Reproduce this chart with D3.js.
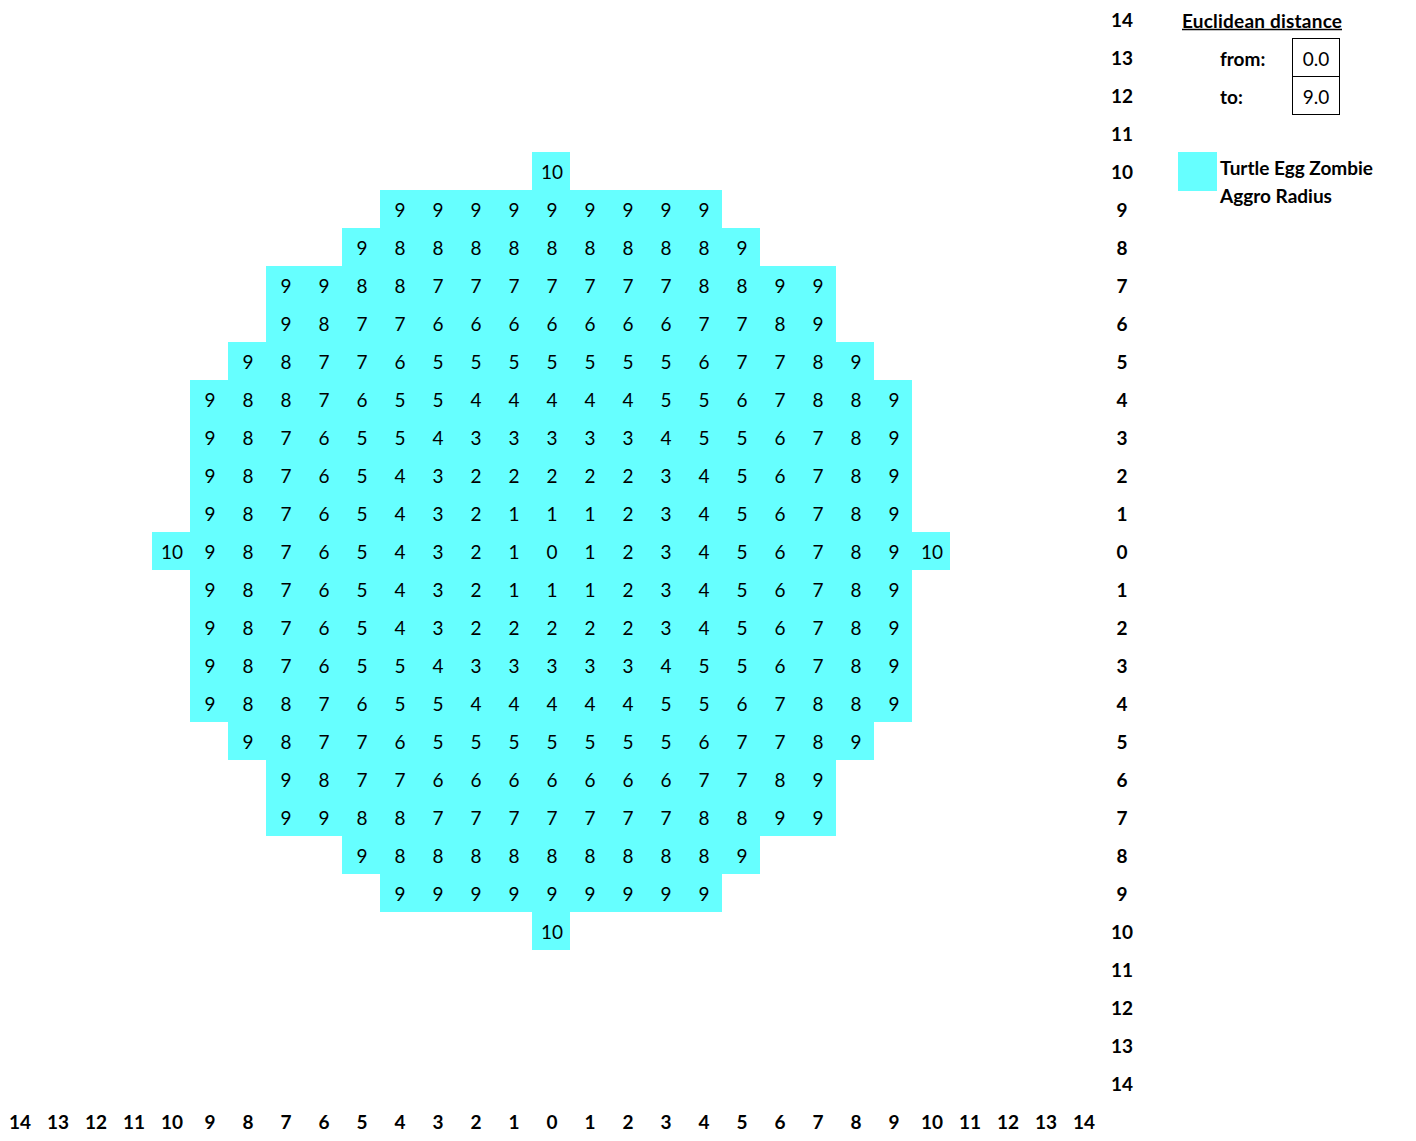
<!DOCTYPE html>
<html><head><meta charset="utf-8">
<script src="https://cdn.jsdelivr.net/npm/d3@7"></script>
<style>
html,body{margin:0;padding:0;background:#fff;}
svg{display:block;font-family:Lato,"Open Sans",sans-serif;}
</style></head>
<body>
<svg id="chart" width="1416" height="1141"></svg>
<script>
// ---- data ----
const xCategories = d3.range(-14, 15);          // column positions
const yCategories = d3.range(14, -15, -1);      // row positions (top to bottom)
const xTickLabels = [14,13,12,11,10,9,8,7,6,5,4,3,2,1,0,1,2,3,4,5,6,7,8,9,10,11,12,13,14];
const yTickLabels = [14,13,12,11,10,9,8,7,6,5,4,3,2,1,0,1,2,3,4,5,6,7,8,9,10,11,12,13,14];

const rowY     = [10, 9, 8, 7, 6, 5, 4, 3, 2, 1, 0, -1, -2, -3, -4, -5, -6, -7, -8, -9, -10];
const rowStart = [ 0,-4,-5,-7,-7,-8,-9,-9,-9,-9,-10,-9, -9, -9, -9, -8, -7, -7, -5, -4,   0];
const rowValues = [
  [10],
  [9,9,9,9,9,9,9,9,9],
  [9,8,8,8,8,8,8,8,8,8,9],
  [9,9,8,8,7,7,7,7,7,7,7,8,8,9,9],
  [9,8,7,7,6,6,6,6,6,6,6,7,7,8,9],
  [9,8,7,7,6,5,5,5,5,5,5,5,6,7,7,8,9],
  [9,8,8,7,6,5,5,4,4,4,4,4,5,5,6,7,8,8,9],
  [9,8,7,6,5,5,4,3,3,3,3,3,4,5,5,6,7,8,9],
  [9,8,7,6,5,4,3,2,2,2,2,2,3,4,5,6,7,8,9],
  [9,8,7,6,5,4,3,2,1,1,1,2,3,4,5,6,7,8,9],
  [10,9,8,7,6,5,4,3,2,1,0,1,2,3,4,5,6,7,8,9,10],
  [9,8,7,6,5,4,3,2,1,1,1,2,3,4,5,6,7,8,9],
  [9,8,7,6,5,4,3,2,2,2,2,2,3,4,5,6,7,8,9],
  [9,8,7,6,5,5,4,3,3,3,3,3,4,5,5,6,7,8,9],
  [9,8,8,7,6,5,5,4,4,4,4,4,5,5,6,7,8,8,9],
  [9,8,7,7,6,5,5,5,5,5,5,5,6,7,7,8,9],
  [9,8,7,7,6,6,6,6,6,6,6,7,7,8,9],
  [9,9,8,8,7,7,7,7,7,7,7,8,8,9,9],
  [9,8,8,8,8,8,8,8,8,8,9],
  [9,9,9,9,9,9,9,9,9],
  [10]
];
const legendTitle = "Euclidean distance";
const fromLabel = "from:", fromValue = "0.0";
const toLabel = "to:", toValue = "9.0";
const seriesName = ["Turtle Egg Zombie", "Aggro Radius"];

// ---- build cells ----
const cells = [];
rowY.forEach((y, i) => {
  rowValues[i].forEach((v, j) => cells.push({x: rowStart[i] + j, y: y, v: v}));
});

const CELL = 38;
const FILL = "#66FFFF";
const svg = d3.select("#chart");

const x = d3.scaleBand().domain(xCategories).range([0, CELL * xCategories.length]);
const y = d3.scaleBand().domain(yCategories).range([0, CELL * yCategories.length]);
const gridW = CELL * xCategories.length;
const gridH = CELL * yCategories.length;

const g = svg.append("g");
g.selectAll("rect.cell").data(cells).join("rect")
  .attr("class", "cell")
  .attr("x", d => x(d.x)).attr("y", d => y(d.y))
  .attr("width", x.bandwidth()).attr("height", y.bandwidth())
  .attr("fill", FILL);

g.selectAll("text.val").data(cells).join("text")
  .attr("class", "val")
  .attr("x", d => x(d.x) + x.bandwidth() / 2 + 1)
  .attr("y", d => y(d.y) + y.bandwidth() / 2 + 1)
  .attr("dy", "0.36em")
  .attr("text-anchor", "middle")
  .attr("font-size", 19)
  .attr("fill", "#000")
  .text(d => d.v);

// ---- axes ----
const xAxis = d3.axisBottom(x).tickSize(0).tickFormat((d, i) => xTickLabels[i]);
const gx = svg.append("g").attr("transform", `translate(1,${gridH})`).call(xAxis);
gx.select(".domain").remove();
gx.selectAll("text").attr("y", CELL / 2 + 1).attr("dy", "0.36em")
  .attr("font-size", 19).attr("font-weight", "bold").attr("fill", "#000")
  .attr("font-family", "Lato, 'Open Sans', sans-serif");

const yAxis = d3.axisRight(y).tickSize(0).tickFormat((d, i) => yTickLabels[i]);
const gy = svg.append("g").attr("transform", `translate(${gridW + 1},1)`).call(yAxis);
gy.select(".domain").remove();
gy.selectAll("text").attr("x", CELL / 2).attr("dy", "0.36em").attr("text-anchor", "middle")
  .attr("font-size", 19).attr("font-weight", "bold").attr("fill", "#000")
  .attr("font-family", "Lato, 'Open Sans', sans-serif");

// ---- legend ----
const lg = svg.append("g").attr("font-size", 19).attr("fill", "#000");
lg.append("text").attr("x", 1182).attr("y", 21).attr("dy", "0.36em")
  .attr("font-weight", "bold").attr("textLength", 160).attr("lengthAdjust", "spacing")
  .text(legendTitle);
lg.append("line").attr("x1", 1182).attr("x2", 1342).attr("y1", 29.5).attr("y2", 29.5)
  .attr("stroke", "#000").attr("stroke-width", 1.5);

lg.append("text").attr("x", 1220).attr("y", 59).attr("dy", "0.36em").attr("font-weight", "bold").text(fromLabel);
lg.append("text").attr("x", 1220).attr("y", 97).attr("dy", "0.36em").attr("font-weight", "bold").text(toLabel);
lg.append("rect").attr("x", 1292.5).attr("y", 38.5).attr("width", 47).attr("height", 38)
  .attr("fill", "none").attr("stroke", "#000");
lg.append("rect").attr("x", 1292.5).attr("y", 76.5).attr("width", 47).attr("height", 38)
  .attr("fill", "none").attr("stroke", "#000");
lg.append("text").attr("x", 1316).attr("y", 59).attr("dy", "0.36em").attr("text-anchor", "middle").text(fromValue);
lg.append("text").attr("x", 1316).attr("y", 97).attr("dy", "0.36em").attr("text-anchor", "middle").text(toValue);

lg.append("rect").attr("x", 1178).attr("y", 152).attr("width", 39).attr("height", 39).attr("fill", FILL);
lg.append("text").attr("x", 1220).attr("y", 168).attr("dy", "0.36em").attr("font-weight", "bold").text(seriesName[0]);
lg.append("text").attr("x", 1220).attr("y", 196).attr("dy", "0.36em").attr("font-weight", "bold").text(seriesName[1]);
</script>
</body></html>
